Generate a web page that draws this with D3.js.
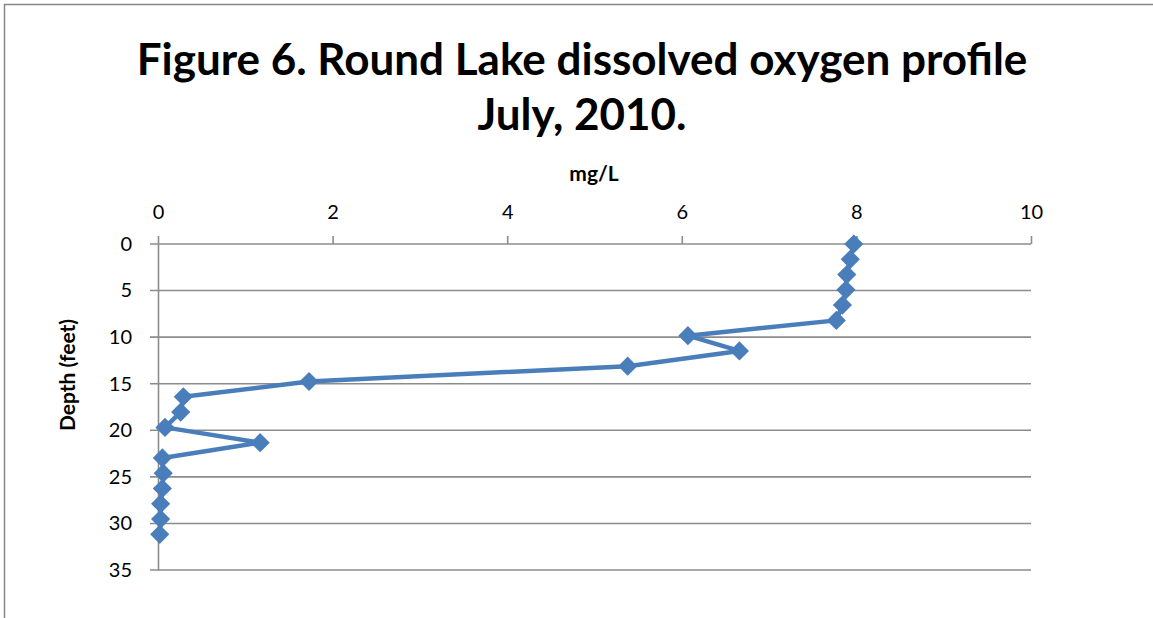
<!DOCTYPE html>
<html>
<head>
<meta charset="utf-8">
<script src="https://cdn.jsdelivr.net/npm/d3@7"></script>
<style>
  body { margin: 0; background: #fff; }
  text { font-family: Lato, "Liberation Sans", sans-serif; fill: #000; }
</style>
</head>
<body>
<script>
var titleLines = ["Figure 6. Round Lake dissolved oxygen profile", "July, 2010."];
var xTitle = "mg/L";
var yTitle = "Depth (feet)";

// depth in feet (0.5 m steps), dissolved oxygen in mg/L
var depthFeet = [0, 1.64, 3.28, 4.92, 6.56, 8.2, 9.84, 11.48, 13.12, 14.76,
                 16.4, 18.04, 19.69, 21.33, 22.97, 24.61, 26.25, 27.89, 29.53, 31.17];
var oxygen = [7.97, 7.93, 7.89, 7.88, 7.84, 7.77, 6.07, 6.66, 5.38, 1.73,
              0.29, 0.26, 0.08, 1.17, 0.05, 0.06, 0.05, 0.03, 0.03, 0.02];
var xTicks = [0, 2, 4, 6, 8, 10];
var yTicks = [0, 5, 10, 15, 20, 25, 30, 35];

var W = 1153, H = 618;
var plotL = 158, plotR = 1031, plotT = 244, plotB = 570;
var gridCol = "#8c8c8c";

var svg = d3.select("body").append("svg")
      .attr("width", W)
      .attr("height", H);

// chart frame (top and left edges visible)
svg.append("path")
    .attr("d", "M4.5," + H + "V4.5H" + W)
    .attr("fill", "none")
    .attr("stroke", "#868686")
    .attr("stroke-width", 1.5);

var x = d3.scaleLinear().domain([0, 10]).range([plotL, plotR]);
var y = d3.scaleLinear().domain([0, 35]).range([plotT, plotB]);

// horizontal gridlines
svg.selectAll("line.grid")
    .data(yTicks)
    .enter().append("line")
      .attr("class", "grid")
      .attr("x1", plotL - 8)
      .attr("x2", plotR)
      .attr("y1", function(d){ return y(d); })
      .attr("y2", function(d){ return y(d); })
      .attr("stroke", gridCol)
      .attr("stroke-width", 1.6);

// x axis along the top
var xAxis = d3.axisTop(x).tickValues(xTicks).tickSize(8).tickPadding(17);
var gx = svg.append("g")
    .attr("transform", "translate(0," + plotT + ")")
    .call(xAxis);
gx.select(".domain").remove();
gx.selectAll(".tick line").attr("stroke", gridCol).attr("stroke-width", 1.6);
gx.selectAll(".tick text")
    .attr("font-size", 20)
    .attr("font-family", "Lato, 'Liberation Sans', sans-serif")
    .attr("fill", "#000");

// y axis line
var yAxis = d3.axisLeft(y).tickValues(yTicks).tickSize(0).tickPadding(26);
var gy = svg.append("g")
    .attr("transform", "translate(" + plotL + ",0)")
    .call(yAxis);
gy.select(".domain").attr("stroke", gridCol).attr("stroke-width", 1.6);
gy.selectAll(".tick text")
    .attr("font-size", 20)
    .attr("font-family", "Lato, 'Liberation Sans', sans-serif")
    .attr("fill", "#000");

// data line
var pts = depthFeet.map(function(d, i){ return [oxygen[i], d]; });
var line = d3.line()
    .x(function(d){ return x(d[0]); })
    .y(function(d){ return y(d[1]); });

svg.append("path")
    .datum(pts)
    .attr("d", line)
    .attr("fill", "none")
    .attr("stroke", "#4a7ebb")
    .attr("stroke-width", 4.5)
    .attr("stroke-linejoin", "round");

svg.selectAll("path.marker")
    .data(pts)
    .enter().append("path")
      .attr("class", "marker")
      .attr("d", d3.symbol().type(d3.symbolDiamond2).size(235))
      .attr("transform", function(d){ return "translate(" + x(d[0]) + "," + y(d[1]) + ")"; })
      .attr("fill", "#4a7ebb");

// titles
svg.append("text")
    .selectAll("tspan")
    .data(titleLines)
    .enter().append("tspan")
      .attr("x", 582)
      .attr("y", function(d, i){ return 75 + i * 55; })
      .attr("text-anchor", "middle")
      .attr("font-size", 44)
      .attr("font-weight", "bold")
      .text(function(d){ return d; });

svg.append("text")
    .attr("x", 594)
    .attr("y", 181)
    .attr("text-anchor", "middle")
    .attr("font-size", 21)
    .attr("font-weight", "bold")
    .text(xTitle);

svg.append("text")
    .attr("transform", "translate(75,375) rotate(-90)")
    .attr("text-anchor", "middle")
    .attr("font-size", 21)
    .attr("font-weight", "bold")
    .text(yTitle);
</script>
</body>
</html>
